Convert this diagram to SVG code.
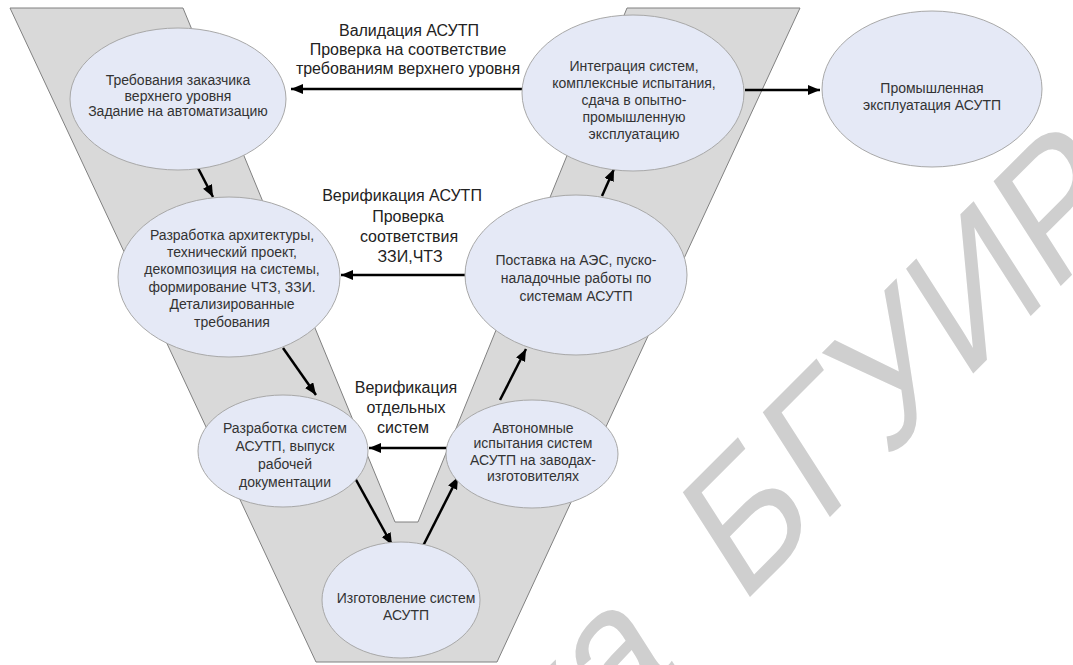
<svg xmlns="http://www.w3.org/2000/svg" width="1073" height="665" viewBox="0 0 1073 665">
<defs>
<marker id="ah" markerUnits="userSpaceOnUse" markerWidth="13" markerHeight="11" refX="12" refY="5" orient="auto" viewBox="0 0 13 11">
<path d="M0,0 L12,5 L0,10 z" fill="#000"/>
</marker>
</defs>
<style>
.bg{fill:#fff}
.band{fill:#d9d9d9;stroke:#808080;stroke-width:1}
.node{fill:#e5e9f6;stroke:#a8a8a8;stroke-width:1}
.nt{font-family:"Liberation Sans",Arial,sans-serif;font-size:14px;fill:#333;text-anchor:middle}
.lb{font-family:"Liberation Sans",Arial,sans-serif;font-size:16px;fill:#222;text-anchor:middle}
.ar{stroke:#000;stroke-width:2.5;fill:none;marker-end:url(#ah)}
.wm{font-family:"Liberation Sans",Arial,sans-serif;font-size:195px;fill:#cfcfcf}
</style>
<rect class="bg" x="0" y="0" width="1073" height="665"/>
<polygon id="vband" class="band" points="10,8 183,8 395,522 418,522 627,8 800,8 497,662 316,662"/>

<g id="connectors">
<line class="ar" x1="522" y1="89" x2="291" y2="89"/>
<line class="ar" x1="745" y1="90" x2="820" y2="90"/>
<line class="ar" x1="465" y1="275" x2="341" y2="275"/>
<line class="ar" x1="447" y1="448" x2="369" y2="448"/>
<line class="ar" x1="198" y1="168" x2="213" y2="197"/>
<line class="ar" x1="283" y1="348" x2="316" y2="395"/>
<line class="ar" x1="355" y1="478" x2="392" y2="545"/>
<line class="ar" x1="422" y1="548" x2="458" y2="477"/>
<line class="ar" x1="500" y1="400" x2="526" y2="349"/>
<line class="ar" x1="602" y1="196" x2="614" y2="169"/>
</g>

<g id="labels">
<text class="lb" x="409" y="36">Валидация АСУТП</text>
<text class="lb" x="408" y="55">Проверка на соответствие</text>
<text class="lb" x="408" y="74">требованиям верхнего уровня</text>
<text class="lb" x="402" y="201">Верификация АСУТП</text>
<text class="lb" x="408" y="222">Проверка</text>
<text class="lb" x="409" y="242">соответствия</text>
<text class="lb" x="410" y="262">ЗЗИ,ЧТЗ</text>
<text class="lb" x="406" y="393">Верификация</text>
<text class="lb" x="406" y="413">отдельных</text>
<text class="lb" x="403" y="433">систем</text>
</g>

<g id="n1">
<ellipse class="node" cx="178" cy="99" rx="108" ry="71"/>
<text class="nt" x="178" y="85">Требования заказчика</text>
<text class="nt" x="178" y="100.5">верхнего уровня</text>
<text class="nt" x="178" y="116">Задание на автоматизацию</text>
</g>
<g id="n2">
<ellipse class="node" cx="633" cy="93" rx="111" ry="78"/>
<text class="nt" x="634" y="71">Интеграция систем,</text>
<text class="nt" x="634" y="88">комплексные испытания,</text>
<text class="nt" x="634" y="105">сдача в опытно-</text>
<text class="nt" x="634" y="122">промышленную</text>
<text class="nt" x="634" y="139">эксплуатацию</text>
</g>
<g id="n3">
<ellipse class="node" cx="932" cy="89" rx="110" ry="78"/>
<text class="nt" x="932" y="92.5">Промышленная</text>
<text class="nt" x="932" y="109.5">эксплуатация АСУТП</text>
</g>
<g id="n4">
<ellipse class="node" cx="229" cy="277" rx="111" ry="80"/>
<text class="nt" x="232" y="239.5">Разработка архитектуры,</text>
<text class="nt" x="232" y="257">технический проект,</text>
<text class="nt" x="232" y="274">декомпозиция на системы,</text>
<text class="nt" x="232" y="291.5">формирование ЧТЗ, ЗЗИ.</text>
<text class="nt" x="232" y="309">Детализированные</text>
<text class="nt" x="232" y="326.5">требования</text>
</g>
<g id="n5">
<ellipse class="node" cx="576" cy="275" rx="111" ry="80"/>
<text class="nt" x="576" y="264.5">Поставка на АЭС, пуско-</text>
<text class="nt" x="576" y="282.5">наладочные работы по</text>
<text class="nt" x="576" y="301">системам АСУТП</text>
</g>
<g id="n6">
<ellipse class="node" cx="283" cy="451" rx="85" ry="56"/>
<text class="nt" x="285" y="432.5">Разработка систем</text>
<text class="nt" x="285" y="451">АСУТП, выпуск</text>
<text class="nt" x="285" y="469">рабочей</text>
<text class="nt" x="285" y="486.5">документации</text>
</g>
<g id="n7">
<ellipse class="node" cx="532" cy="454" rx="86" ry="54"/>
<text class="nt" x="533" y="432.5">Автономные</text>
<text class="nt" x="533" y="448">испытания систем</text>
<text class="nt" x="533" y="464.5">АСУТП на заводах-</text>
<text class="nt" x="533" y="481">изготовителях</text>
</g>
<g id="n8">
<ellipse class="node" cx="401" cy="600" rx="79" ry="58"/>
<text class="nt" x="406" y="602.5">Изготовление систем</text>
<text class="nt" x="406" y="619.5">АСУТП</text>
</g>

<g id="watermark" transform="translate(740,607) scale(0.8,1) rotate(-38.7)">
<text class="wm" x="0" y="0">БГУИР</text>
<text class="wm" x="-100" y="0" text-anchor="end">Библиотека</text>
</g>
</svg>
